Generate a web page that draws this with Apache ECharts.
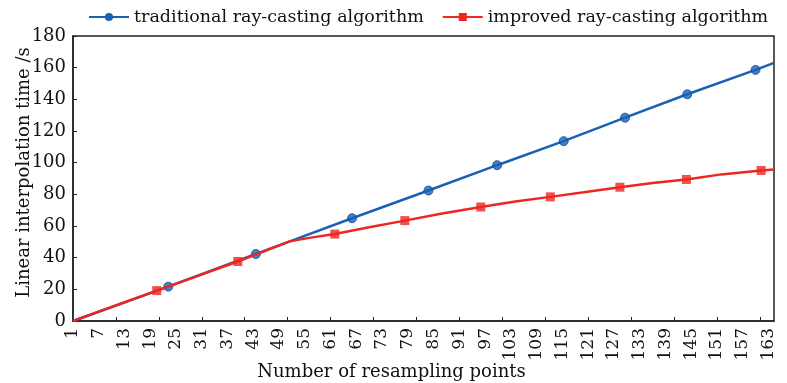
<!DOCTYPE html>
<html>
<head>
<meta charset="utf-8">
<script src="https://cdn.jsdelivr.net/npm/echarts@6/dist/echarts.min.js"></script>
<style>html,body{margin:0;padding:0;background:#fff;}#c{width:787px;height:383px;}</style>
</head>
<body>
<div id="c"></div>
<script>
// Series names
const seriesNames = ['traditional ray-casting algorithm', 'improved ray-casting algorithm'];
// Axis tick labels
const xTickLabels = [1,7,13,19,25,31,37,43,49,55,61,67,73,79,85,91,97,103,109,115,121,127,133,139,145,151,157,163];
const xTickMarks = [11,21,31,41,51,61,71,81,91,101,111,121,131,141,151,161];
// Traditional: line trace and marker points
const tradLineX = [1, 23.2, 43.6, 51.5, 66.0, 83.8, 99.8, 115.3, 129.6, 144.1, 160.0, 164.3];
const tradLineY = [0, 21.7, 42.3, 50.3, 64.9, 82.4, 98.4, 113.6, 128.4, 143.2, 158.6, 163.0];
const tradMarkX = [23.2, 43.6, 66.0, 83.8, 99.8, 115.3, 129.6, 144.1, 160.0];
const tradMarkY = [21.7, 42.3, 64.9, 82.4, 98.4, 113.6, 128.4, 143.2, 158.6];
// Improved: line trace and marker points
const impLineX = [1, 20.5, 39.4, 46.8, 51.5, 56.0, 62.0, 70.0, 78.3, 87.0, 96.0, 104.0, 112.2, 120.0, 128.4, 136.0, 143.9, 152.0, 161.3, 164.3];
const impLineY = [0, 19.2, 37.6, 45.4, 50.3, 52.5, 54.9, 59.2, 63.4, 67.9, 72.0, 75.5, 78.4, 81.3, 84.5, 87.2, 89.4, 92.6, 95.1, 95.7];
const impMarkX = [20.5, 39.4, 62.0, 78.3, 96.0, 112.2, 128.4, 143.9, 161.3];
const impMarkY = [19.2, 37.6, 54.9, 63.4, 72.0, 78.4, 84.5, 89.4, 95.1];

const zip = (xs, ys) => xs.map((x, i) => [x, ys[i]]);
const FONT = 'DejaVu Serif';
const BLUE = '#1862b6';
const RED = '#ee2622';

const chart = echarts.init(document.getElementById('c'), null, {renderer: 'canvas'});
chart.setOption({
  animation: false,
  backgroundColor: '#fff',
  textStyle: {fontFamily: FONT, color: '#111'},
  legend: {
    data: seriesNames,
    orient: 'horizontal',
    left: 88, top: 8, width: 800, padding: 0,
    itemWidth: 40, itemHeight: 10, itemGap: 18,
    textStyle: {fontFamily: FONT, fontSize: 17.5, color: '#111'}
  },
  grid: {left: 73, right: 13, top: 36, bottom: 62, show: true, borderColor: '#222', borderWidth: 1.5,
         containLabel: false, outerBoundsMode: 'none'},
  xAxis: {
    type: 'value', min: 1, max: 164.3,
    name: 'Number of resampling points', nameLocation: 'middle', nameGap: 42, nameMoveOverlap: false,
    nameTextStyle: {fontFamily: FONT, fontSize: 18, color: '#111', padding: [0, 64, 0, 0]},
    splitLine: {show: false},
    axisLine: {lineStyle: {color: '#222', width: 1.5}},
    axisTick: {inside: true, length: 4, customValues: xTickMarks, lineStyle: {color: '#222'}},
    axisLabel: {customValues: xTickLabels, rotate: 90, margin: 7, fontFamily: FONT, fontSize: 17, color: '#111'}
  },
  yAxis: {
    type: 'value', min: 0, max: 180, interval: 20,
    name: 'Linear interpolation time /s', nameLocation: 'middle', nameGap: 40, nameMoveOverlap: false,
    nameTextStyle: {fontFamily: FONT, fontSize: 18, color: '#111', padding: [0, 0, 0, 12]},
    splitLine: {show: false},
    axisLine: {lineStyle: {color: '#222', width: 1.5}},
    axisTick: {inside: true, length: 4, lineStyle: {color: '#222'}},
    axisLabel: {margin: 7, fontFamily: FONT, fontSize: 18, color: '#111'}
  },
  series: [
    {
      name: seriesNames[0], type: 'line', data: zip(tradLineX, tradLineY),
      showSymbol: false, symbol: 'circle', symbolSize: 9,
      lineStyle: {color: BLUE, width: 2.5}, itemStyle: {color: BLUE}, z: 2
    },
    {
      name: 'tradMarks', type: 'scatter', data: zip(tradMarkX, tradMarkY),
      symbol: 'circle', symbolSize: 9,
      itemStyle: {color: BLUE, borderColor: '#0b4a9a', borderWidth: 1}, z: 3
    },
    {
      name: seriesNames[1], type: 'line', data: zip(impLineX, impLineY),
      showSymbol: false, symbol: 'rect', symbolSize: 9,
      lineStyle: {color: RED, width: 2.5}, itemStyle: {color: RED}, z: 4
    },
    {
      name: 'impMarks', type: 'scatter', data: zip(impMarkX, impMarkY),
      symbol: 'rect', symbolSize: 9,
      itemStyle: {color: RED}, z: 5
    }
  ]
});
</script>
</body>
</html>
